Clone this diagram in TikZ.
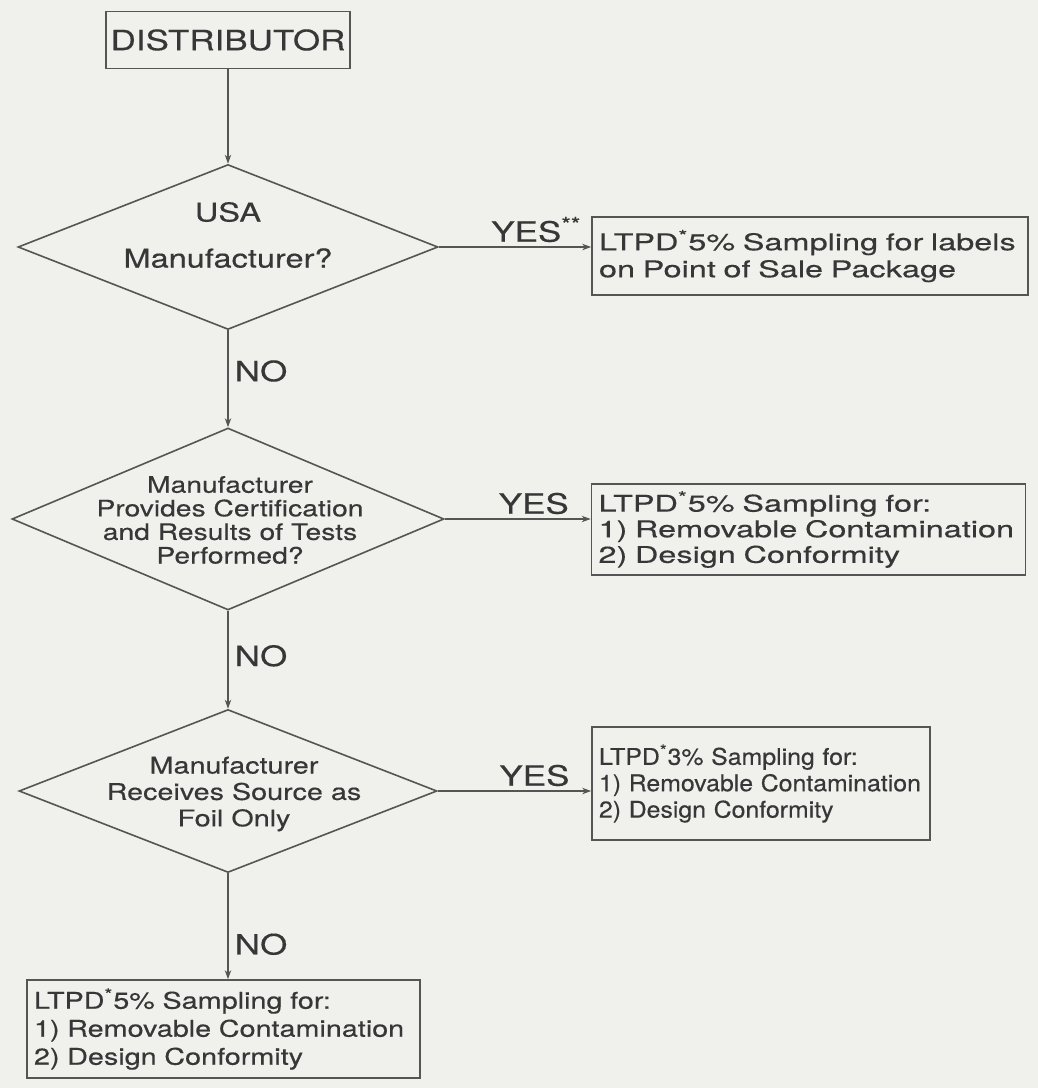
\documentclass[tikz,border=0pt]{standalone}
\usepackage{fontspec}
\setmainfont{TeX Gyre Heros}[FakeStretch=1.25, FakeBold=0.35]
\newfontfamily\fwide{TeX Gyre Heros}[FakeStretch=1.41, FakeBold=0.35]
\newfontfamily\fmid{TeX Gyre Heros}[FakeStretch=1.25, FakeBold=0.35]
\newfontfamily\fnarrow{TeX Gyre Heros}[FakeStretch=1.08, FakeBold=0.35]
\usetikzlibrary{shapes.geometric,arrows.meta}
\definecolor{bg}{RGB}{240,240,236}
\definecolor{ink}{RGB}{85,85,85}
\definecolor{txt}{RGB}{55,55,55}
\begin{document}
\begin{tikzpicture}[x=0.5pt,y=-0.5pt,
  line/.style={draw=ink, line width=0.8pt},
  arr/.style={line, -{Stealth[length=4.5pt,width=3.2pt]}},
  decision/.style={diamond, draw=ink, line width=0.8pt, inner sep=0pt},
  dtext/.style={align=center, text=txt, inner sep=0pt},
  rbox/.style={rectangle, draw=ink, line width=0.8pt, text=txt, align=left,
    inner sep=3.5pt, execute at begin node={\hyphenpenalty=10000\exhyphenpenalty=10000}},
  lab/.style={text=txt, inner sep=0pt, font=\fontsize{14pt}{16pt}\selectfont}
]
\fill[bg] (0,0) rectangle (1038,1088);
\useasboundingbox (0,0) rectangle (1038,1088);

% start box
\node[rectangle, draw=ink, line width=0.8pt, text=txt, minimum width=122pt,
  minimum height=28.5pt, inner sep=0pt, font=\fontsize{14pt}{16pt}\selectfont]
  (dist) at (228,40) {DISTRIBUTOR};

% decisions
\node[decision, minimum width=210pt, minimum height=82.5pt] (d1) at (228,247) {};
\node[dtext, font=\fontsize{13pt}{23pt}\selectfont] (t1) at (228,235) {USA\\Manufacturer?};

\node[decision, minimum width=216pt, minimum height=91pt] (d2) at (228,519) {};
\node[dtext, font=\fontsize{11.3pt}{11.8pt}\selectfont] (t2) at (230,520)
  {Manufacturer\\Provides Certification\\and Results of Tests\\Performed?};

\node[decision, minimum width=209pt, minimum height=81.5pt] (d3) at (228,791) {};
\node[dtext, font=\fontsize{11.5pt}{13.2pt}\selectfont] (t3) at (234,794)
  {Manufacturer\\Receives Source as\\Foil Only};

% result boxes
\node[rbox, minimum width=218pt, minimum height=39pt, text width=211pt,
  font=\fwide\fontsize{11.5pt}{13.5pt}\selectfont] (b1) at (810,256)
  {LTPD\textsuperscript{*}5\% Sampling for labels\\on Point of Sale Package};
\node[rbox, minimum width=217pt, minimum height=42.5pt, text width=210pt,
  font=\fwide\fontsize{11.5pt}{12.8pt}\selectfont] (b2) at (808.5,529.5)
  {LTPD\textsuperscript{*}5\% Sampling for:\\1) Removable Contamination\\2) Design Conformity};
\node[rbox, minimum width=169pt, minimum height=56.5pt, text width=162pt,
  font=\fnarrow\fontsize{11.5pt}{13.2pt}\selectfont] (b3) at (761,783.5)
  {LTPD\textsuperscript{*}3\% Sampling for:\\1) Removable Contamination\\2) Design Conformity};
\node[rbox, minimum width=196.5pt, minimum height=49pt, text width=189.5pt,
  font=\fmid\fontsize{11.5pt}{14pt}\selectfont] (b4) at (223.5,1029)
  {LTPD\textsuperscript{*}5\% Sampling for:\\1) Removable Contamination\\2) Design Conformity};

% connectors
\draw[arr] (dist.south) -- (d1.north);
\draw[arr] (d1.south) -- node[lab, right=3pt, pos=0.42] (no1) {NO} (d2.north);
\draw[arr] (d2.south) -- node[lab, right=3pt, pos=0.46] (no2) {NO} (d3.north);
\draw[arr] (d3.south) -- node[lab, right=3pt, pos=0.67] (no3) {NO} (d3.south |- b4.north);

\draw[arr] (d1.east) -- node[lab, above=2pt, pos=0.64] (y1) {YES\textsuperscript{**}} (d1.east -| b1.west);
\draw[arr] (d2.east) -- node[lab, above=2pt, pos=0.61] (y2) {YES} (d2.east -| b2.west);
\draw[arr] (d3.east) -- node[lab, above=2pt, pos=0.63] (y3) {YES} (d3.east -| b3.west);
\end{tikzpicture}
\end{document}
